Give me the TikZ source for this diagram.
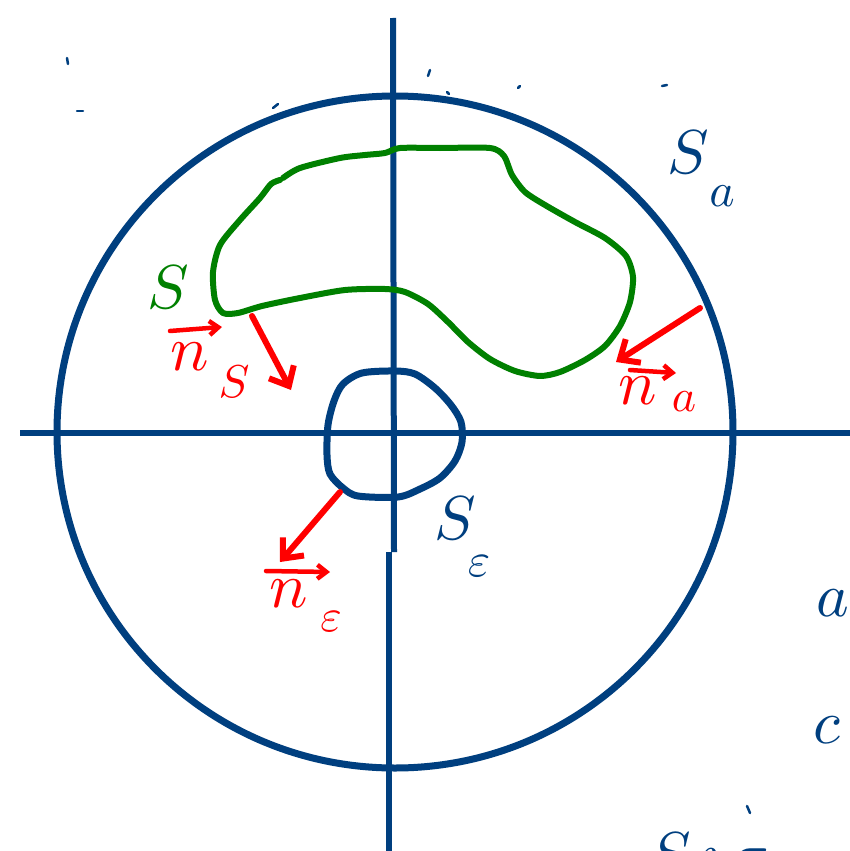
\documentclass[tikz,border=0pt]{standalone}
\usetikzlibrary{arrows.meta}
\definecolor{inkblue}{RGB}{0,63,127}
\definecolor{inkgreen}{RGB}{0,128,0}
\definecolor{inkred}{RGB}{255,0,0}
\tikzset{
  blueink/.style={draw=inkblue, line width=7pt, line cap=round, line join=round},
  axisline/.style={draw=inkblue, line width=6pt},
  greenink/.style={draw=inkgreen, line width=6pt, line cap=round, line join=round},
  redink/.style={draw=inkred, line width=6pt, line cap=round, line join=round},
  redarrow/.style={redink, -{Straight Barb[length=16pt,width=28pt,line width=6pt]}},
  smallarrow/.style={draw=inkred, line width=4.5pt, line cap=round, -{Straight Barb[length=9pt,width=14pt,line width=4.5pt]}},
  biglbl/.style={inner sep=0pt, scale=6.2},
  sublbl/.style={inner sep=0pt, scale=4.8},
  nlbl/.style={inner sep=0pt, text=inkred, scale=6.4},
  nsub/.style={inner sep=0pt, text=inkred, scale=4.6},
  speck/.style={draw=inkblue, line width=2.5pt, line cap=round}
}
\begin{document}
\begin{tikzpicture}[x=1pt,y=-1pt]
\useasboundingbox (0,0) rectangle (850,851);
\clip (0,0) rectangle (850,851);
\fill[white] (0,0) rectangle (850,851);
% axes
\draw[axisline] (20,433) -- (850,433);
\draw[axisline] (393,18) -- (394,552);
\draw[axisline] (389,552) -- (389,851);
% big circle S_a
\draw[blueink] (395,432) ellipse [x radius=338, y radius=336];
% small circle S_eps
\draw[blueink] plot[smooth cycle, tension=0.5] coordinates {
 (362,373) (395,371) (415,374) (435,388) (451,405) (461,422) (462,442)
 (455,461) (440,478) (420,489) (398,497) (358,496) (343,488) (330,474)
 (327,455) (328,425) (334,401) (343,384)};
% green curve S
\draw[greenink] plot[smooth, tension=0.45] coordinates {
 (283,178) (300,168) (340,158) (365,155) (385,153) (400,148) (440,148) (490,148)
 (504,156) (512,175) (525,192) (545,205) (575,222) (605,238) (626,256)
 (633,277) (630,302) (620,326) (605,346) (585,360) (560,372) (540,376)
 (515,371) (490,359) (468,342) (448,322) (428,304) (405,292) (385,289)
 (345,290) (300,298) (262,306) (238,313) (223,313) (215,300) (213,272)
 (220,245) (240,220) (260,198) (271,184) (280,180)};
% labels
\node[biglbl, text=inkgreen] (lS) at (168,287) {$S$};
\node[biglbl, text=inkblue] (lSa) at (688,152) {$S$};
\node[sublbl, text=inkblue] (lSasub) at (722,196) {$a$};
\node[biglbl, text=inkblue] (lSe) at (455,518) {$S$};
\node[sublbl, text=inkblue] (lSesub) at (479,566) {$\varepsilon$};
% normal n_S
\coordinate (nS0) at (252,316);
\coordinate (nS1) at (291,390);
\draw[redarrow] (nS0) -- (nS1);
\coordinate (vS0) at (170,331);
\coordinate (vS1) at (222,327);
\draw[smallarrow] (vS0) -- (vS1);
\node[nlbl] (nSn) at (190,357) {$n$};
\node[nsub] (nSs) at (234,382) {$S$};
% normal n_a
\coordinate (na0) at (700,308);
\coordinate (na1) at (616,362);
\draw[redarrow] (na0) -- (na1);
\coordinate (va0) at (630,370);
\coordinate (va1) at (676,373);
\draw[smallarrow] (va0) -- (va1);
\node[nlbl] (nan) at (638,391) {$n$};
\node[nsub] (nas) at (684,402) {$a$};
% normal n_eps
\coordinate (ne0) at (340,492);
\coordinate (ne1) at (280,562);
\draw[redarrow] (ne0) -- (ne1);
\coordinate (ve0) at (266,571);
\coordinate (ve1) at (330,572);
\draw[smallarrow] (ve0) -- (ve1);
\node[nlbl] (nen) at (289,594) {$n$};
\node[nsub] (nes) at (331,622) {$\varepsilon$};
% cropped text at the right and bottom edges
\node[biglbl, text=inkblue, anchor=west] (edgea) at (815,603) {$a$};
\node[biglbl, text=inkblue, anchor=west] (edgec) at (812,730) {$c$};
\node[biglbl, text=inkblue, anchor=north west] (edgebot) at (648,832) {$S\,\imath\,\sigma$};
% specks
\draw[speck] (67,58) -- (68,64);
\draw[speck] (77,111) -- (83,111);
\draw[speck] (430,70) -- (428,76);
\draw[speck] (447,92) -- (449,94);
\draw[speck] (518,88) -- (520,86);
\draw[speck] (662,86) -- (667,85);
\draw[speck] (273,108) -- (278,104);
\draw[speck] (747,806) -- (750,813);
\end{tikzpicture}
\end{document}
